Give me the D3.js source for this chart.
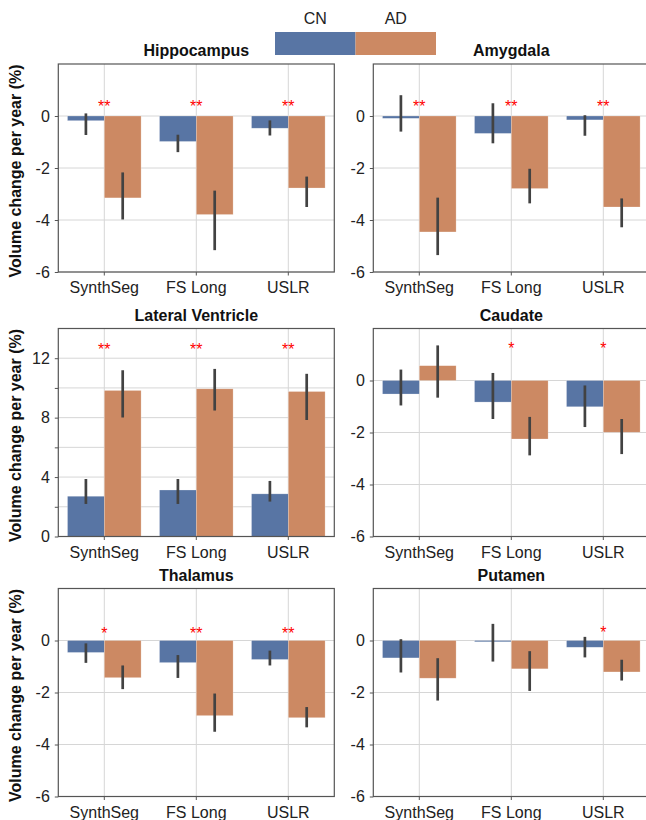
<!DOCTYPE html>
<html>
<head>
<meta charset="utf-8">
<script src="https://cdn.jsdelivr.net/npm/d3@7"></script>
<style>
  body { margin: 0; background: #fff; }
  svg { display: block; font-family: "Liberation Sans", Arial, sans-serif; }
</style>
</head>
<body>
<div id="chart"></div>
<script>
// datos
const regions = ["Hippocampus", "Amygdala", "Lateral Ventricle", "Caudate", "Thalamus", "Putamen"];
const methods = ["SynthSeg", "FS Long", "USLR"];
const groups = ["CN", "AD"];

const cnMean = [[-0.18, -0.98, -0.47], [-0.09, -0.67, -0.15], [2.71, 3.13, 2.87],
                [-0.52, -0.83, -1.01], [-0.46, -0.85, -0.73], [-0.67, -0.05, -0.26]];
const cnLow  = [[-0.73, -1.39, -0.75], [-0.60, -1.05, -0.76], [2.19, 2.19, 2.35],
                [-0.96, -1.48, -1.79], [-0.86, -1.44, -0.96], [-1.23, -0.81, -0.65]];
const cnHigh = [[0.10, -0.72, -0.17], [0.80, 0.49, 0.03], [3.87, 3.87, 3.74],
                [0.42, 0.29, -0.19], [-0.11, -0.56, -0.39], [0.05, 0.64, 0.14]];

const adMean = [[-3.15, -3.79, -2.77], [-4.46, -2.79, -3.50], [9.83, 9.94, 9.76],
                [0.57, -2.25, -1.99], [-1.43, -2.89, -2.97], [-1.45, -1.09, -1.21]];
const adLow  = [[-3.98, -5.16, -3.50], [-5.35, -3.36, -4.28], [8.01, 8.48, 7.84],
                [-0.66, -2.88, -2.83], [-1.87, -3.51, -3.34], [-2.31, -1.94, -1.54]];
const adHigh = [[-2.17, -2.87, -2.33], [-3.14, -2.03, -3.17], [11.19, 11.28, 10.95],
                [1.35, -1.40, -1.48], [-0.96, -2.04, -2.56], [-0.68, -0.41, -0.74]];

const stars = [["**", "**", "**"], ["**", "**", "**"], ["**", "**", "**"],
               ["", "*", "*"], ["*", "**", "**"], ["", "", "*"]];
const starY = [0.5, 0.5, 12.8, 1.35, 0.4, 0.45];

const yDomains = [[-6, 2], [-6, 2], [0, 14], [-6, 2], [-6, 2], [-6, 2]];
const yTicks = [[-6, -4, -2, 0], [-6, -4, -2, 0], [0, 2, 4, 6, 8, 10, 12],
                [-6, -4, -2, 0], [-6, -4, -2, 0], [-6, -4, -2, 0]];
const yTickLabels = [[-6, -4, -2, 0], [-6, -4, -2, 0], [0, 4, 8, 12],
                     [-6, -4, -2, 0], [-6, -4, -2, 0], [-6, -4, -2, 0]];

const yLabel = "Volume change per year (%)";

// tamaños
const WIDTH = 646;
const HEIGHT = 820;
const colX = [58.3, 373.3];
const rowY = [64, 328.5, 588.5];
const panelW = 276;
const panelH = 208;

const colors = { CN: "#5875a4", AD: "#cc8963" };

const svg = d3.select("#chart").append("svg")
    .attr("width", WIDTH)
    .attr("height", HEIGHT);

// leyenda
const legendX = d3.scaleBand().domain(groups).range([275, 436]);
const legend = svg.append("g");
legend.selectAll("rect")
    .data(groups)
    .enter().append("rect")
    .attr("x", d => legendX(d))
    .attr("y", 32)
    .attr("width", legendX.bandwidth())
    .attr("height", 23)
    .attr("fill", d => colors[d]);
legend.selectAll("text")
    .data(groups)
    .enter().append("text")
    .attr("x", d => legendX(d) + legendX.bandwidth() / 2)
    .attr("y", 24)
    .attr("text-anchor", "middle")
    .style("font-size", "16px")
    .style("fill", "#222")
    .text(d => d);

const x = d3.scaleBand().domain(methods).range([0, panelW]);
const bw = x.bandwidth();
const barW = bw * 0.4;

regions.forEach((region, i) => {
    const col = i % 2;
    const row = Math.floor(i / 2);
    const g = svg.append("g")
        .attr("transform", `translate(${colX[col]}, ${rowY[row]})`);

    const y = d3.scaleLinear().domain(yDomains[i]).range([panelH, 0]);

    // grillas
    g.selectAll(".hgrid")
        .data(yTicks[i])
        .enter().append("line")
        .attr("x1", 0).attr("x2", panelW)
        .attr("y1", d => y(d)).attr("y2", d => y(d))
        .attr("stroke", "#d6d6d6")
        .attr("stroke-width", 1);
    g.selectAll(".vgrid")
        .data(methods)
        .enter().append("line")
        .attr("x1", d => x(d) + bw / 2).attr("x2", d => x(d) + bw / 2)
        .attr("y1", 0).attr("y2", panelH)
        .attr("stroke", "#d6d6d6")
        .attr("stroke-width", 1);

    // barras
    const bars = [];
    methods.forEach((m, j) => {
        bars.push({ m, grp: "CN", v: cnMean[i][j], lo: cnLow[i][j], hi: cnHigh[i][j], off: -barW });
        bars.push({ m, grp: "AD", v: adMean[i][j], lo: adLow[i][j], hi: adHigh[i][j], off: 0 });
    });

    g.selectAll(".bar")
        .data(bars)
        .enter().append("rect")
        .attr("x", d => x(d.m) + bw / 2 + d.off)
        .attr("y", d => Math.min(y(0), y(d.v)))
        .attr("width", barW)
        .attr("height", d => Math.abs(y(0) - y(d.v)))
        .attr("fill", d => colors[d.grp])
        .attr("stroke", "#fff")
        .attr("stroke-opacity", 0.4)
        .attr("stroke-width", 0.6);

    g.selectAll(".err")
        .data(bars)
        .enter().append("line")
        .attr("x1", d => x(d.m) + bw / 2 + d.off + barW / 2)
        .attr("x2", d => x(d.m) + bw / 2 + d.off + barW / 2)
        .attr("y1", d => y(d.lo))
        .attr("y2", d => y(d.hi))
        .attr("stroke", "#424242")
        .attr("stroke-width", 2.7);

    // asteriscos
    g.selectAll(".star")
        .data(methods)
        .enter().append("text")
        .attr("x", d => x(d) + bw / 2)
        .attr("y", y(starY[i]) + 9)
        .attr("text-anchor", "middle")
        .style("font-size", "16px")
        .style("fill", "#ff0000")
        .text((d, j) => stars[i][j]);

    // marco
    g.append("rect")
        .attr("width", panelW)
        .attr("height", panelH)
        .attr("fill", "none")
        .attr("stroke", "#555")
        .attr("stroke-width", 1.2);

    // ejes
    const yAxis = g.append("g")
        .call(d3.axisLeft(y)
            .tickValues(yTicks[i])
            .tickSize(3.5)
            .tickPadding(5)
            .tickFormat(d => yTickLabels[i].includes(d) ? String(d) : ""));
    const xAxis = g.append("g")
        .attr("transform", `translate(0, ${panelH})`)
        .call(d3.axisBottom(x).tickSize(3.5).tickPadding(6.5));

    [yAxis, xAxis].forEach(a => {
        a.select(".domain").remove();
        a.selectAll(".tick line").attr("stroke", "#555");
        a.selectAll("text")
            .style("font-size", "16px")
            .style("font-family", "'Liberation Sans', Arial, sans-serif")
            .style("fill", "#222");
    });

    // titulo
    g.append("text")
        .attr("x", panelW / 2)
        .attr("y", -8)
        .attr("text-anchor", "middle")
        .style("font-size", "16px")
        .style("font-weight", "bold")
        .style("fill", "#111")
        .text(region);

    // etiqueta eje y
    if (col === 0) {
        g.append("text")
            .attr("transform", `translate(${20.5 - colX[0]}, ${panelH / 2 + 3}) rotate(-90)`)
            .attr("text-anchor", "middle")
            .style("font-size", "16px")
            .style("font-weight", "bold")
            .style("fill", "#111")
            .text(yLabel);
    }
});
</script>
</body>
</html>
